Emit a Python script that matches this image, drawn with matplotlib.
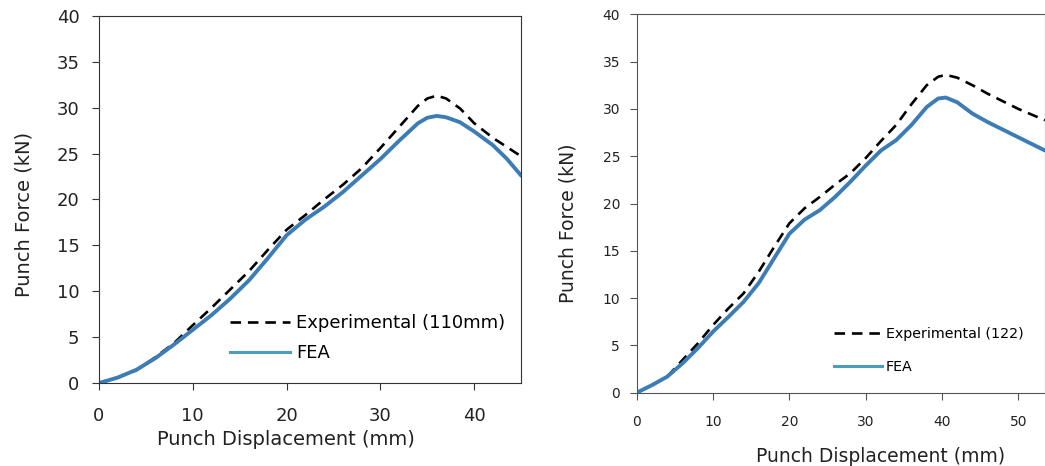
import matplotlib.pyplot as plt
from matplotlib.lines import Line2D

# left chart (110 mm)
disp_a = [0, 2, 4, 6, 8, 10, 12, 14, 16, 18, 20, 22, 24, 26, 28, 30, 32, 34, 35, 36, 37, 38.5,
          40, 42, 43.5, 45]
exp_a = [0, 0.6, 1.4, 2.8, 4.35, 6.3, 8.2, 10.2, 12.2, 14.5, 16.7, 18.3, 20.0, 21.6, 23.4, 25.6,
         27.9, 30.2, 31.0, 31.3, 31.0, 29.9, 28.3, 26.7, 25.7, 24.7]
fea_a = [0, 0.6, 1.45, 2.7, 4.2, 5.8, 7.4, 9.2, 11.2, 13.6, 16.1, 17.8, 19.2, 20.8, 22.6, 24.4,
         26.4, 28.3, 28.9, 29.1, 28.95, 28.4, 27.4, 25.9, 24.4, 22.6]

# right chart (122)
disp_b = [0, 2, 4, 6, 8, 10, 12, 14, 16, 18, 20, 22, 24, 26, 28, 30, 32, 34, 36, 38, 39.5, 40.5,
          42, 44, 46, 48, 50, 53.5]
exp_b = [0, 0.8, 1.7, 3.45, 5.2, 7.15, 8.9, 10.5, 12.8, 15.4, 17.9, 19.5, 20.7, 22.0, 23.2, 24.8,
         26.6, 28.3, 30.5, 32.5, 33.4, 33.6, 33.3, 32.5, 31.6, 30.8, 30.0, 28.8]
fea_b = [0, 0.8, 1.7, 3.1, 4.7, 6.45, 8.0, 9.6, 11.6, 14.2, 16.8, 18.3, 19.3, 20.7, 22.3, 24.0,
         25.6, 26.7, 28.3, 30.2, 31.1, 31.2, 30.7, 29.5, 28.6, 27.8, 27.0, 25.6]

labels_a = ['Experimental (110mm)', 'FEA']
labels_b = ['Experimental (122)', 'FEA']

fea_color = '#3d7db5'
leg_color = '#4b9dbd'

fig = plt.figure(figsize=(10.45, 4.66), dpi=100)
ax1 = fig.add_axes([0.0947, 0.178, 0.404, 0.788])
ax2 = fig.add_axes([0.6093, 0.1573, 0.3907, 0.812])

# left
ax1.plot(disp_a, exp_a, color='black', lw=1.9, dashes=(4, 2.6))
ax1.plot(disp_a, fea_a, color=fea_color, lw=2.8, solid_capstyle='round', solid_joinstyle='round')
ax1.set_xlim(0, 45)
ax1.set_ylim(0, 40)
ax1.set_xticks(range(0, 41, 10))
ax1.set_yticks(range(0, 41, 5))
ax1.tick_params(labelsize=13, length=5, pad=12, color='#333333', labelcolor='#222222')
ax1.tick_params(axis='y', pad=9)
ax1.set_xlabel('Punch Displacement (mm)', fontsize=14, color='#222222')
ax1.set_ylabel('Punch Force (kN)', fontsize=14, color='#222222')
ax1.xaxis.set_label_coords(0.444, -0.128)
ax1.yaxis.set_label_coords(-0.156, 0.458)
for s in ax1.spines.values():
    s.set_color('#333333')
handles_a = [Line2D([], [], color='black', lw=1.9, dashes=(4, 2.6)),
             Line2D([], [], color=leg_color, lw=2.2)]
ax1.legend(handles_a, labels_a, loc='upper left', bbox_to_anchor=(0.29, 0.212), frameon=False,
           fontsize=13, handlelength=3.3, handletextpad=0.35, labelspacing=0.65, borderpad=0)

# right
ax2.plot(disp_b, exp_b, color='black', lw=1.9, dashes=(4, 2.6))
ax2.plot(disp_b, fea_b, color=fea_color, lw=2.8, solid_capstyle='round', solid_joinstyle='round')
ax2.set_xlim(0, 53.5)
ax2.set_ylim(0, 40)
ax2.set_xticks(range(0, 51, 10))
ax2.set_yticks(range(0, 41, 5))
ax2.tick_params(labelsize=10, length=5, pad=11, color='#555555', labelcolor='#222222')
ax2.tick_params(axis='y', pad=7)
ax2.set_xlabel('Punch Displacement (mm)', fontsize=13.5, color='#222222')
ax2.set_ylabel('Punch Force (kN)', fontsize=13.5, color='#222222')
ax2.xaxis.set_label_coords(0.598, -0.143)
ax2.yaxis.set_label_coords(-0.144, 0.447)
for s in ax2.spines.values():
    s.set_color('#555555')
handles_b = [Line2D([], [], color='black', lw=1.9, dashes=(4, 2.6)),
             Line2D([], [], color=leg_color, lw=2.2)]
ax2.legend(handles_b, labels_b, loc='upper left', bbox_to_anchor=(0.465, 0.192), frameon=False,
           fontsize=10.3, handlelength=3.4, handletextpad=0.25, labelspacing=1.3, borderpad=0)

fig.savefig('out.png', dpi=100)
